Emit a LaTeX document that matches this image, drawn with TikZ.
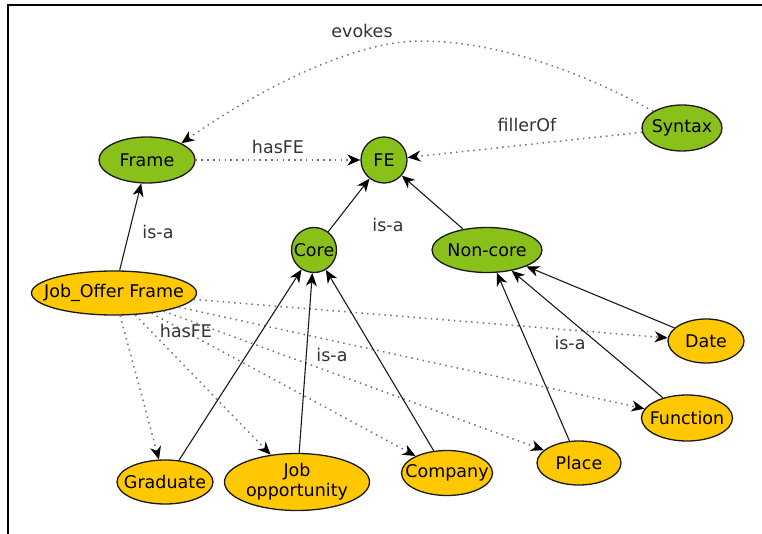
\documentclass[tikz,border=0pt]{standalone}
\usepackage{fontspec}
\setmainfont{DejaVu Sans}
\usetikzlibrary{shapes.geometric,arrows.meta}
\definecolor{leaf}{HTML}{8AC01A}
\definecolor{amber}{HTML}{FFC800}
\definecolor{ink}{HTML}{1A1A1A}
\begin{document}
\begin{tikzpicture}[x=1pt,y=-1pt,
  every node/.style={font=\fontsize{17.5}{20}\selectfont},
  concept/.style={draw=ink, line width=1.3pt, ellipse, inner xsep=-12pt, inner ysep=0pt},
  leafnode/.style={concept, fill=leaf},
  ambernode/.style={concept, fill=amber},
  roundnode/.style={draw=ink, line width=1.3pt, circle, inner sep=0pt, fill=leaf, minimum size=46pt},
  tip/.style={-{Stealth[length=13pt,width=11pt,inset=4pt,color=black]}},
  isa/.style={draw=ink, line width=1.1pt, tip},
  rel/.style={draw=black!55, line width=1.5pt, dash pattern=on 1.5pt off 4.3pt, tip},
  lbl/.style={text=black!80}
]
\useasboundingbox (0,0) rectangle (762,534);
% frame lines
\draw[line width=1.3pt] (8,534) -- (8,5) -- (762,5);

% concepts
\node[leafnode, minimum width=96pt, minimum height=46pt] (frame) at (147,160) {Frame};
\node[roundnode] (fe) at (384,160) {FE};
\node[leafnode, minimum width=80pt, minimum height=46pt] (syntax) at (682,128) {Syntax};
\node[roundnode, minimum size=45pt] (core) at (314,250) {Core};
\node[leafnode, minimum width=110pt, minimum height=45pt] (noncore) at (487,250) {Non-core};

\node[ambernode, minimum width=165pt, minimum height=44pt] (job) at (114,293) {Job\_Offer Frame};
\node[ambernode, minimum width=96pt, minimum height=44pt] (graduate) at (165,482) {Graduate};
\node[ambernode, minimum width=145pt, minimum height=57pt, align=center] (jobopp) at (297,482) {Job\\opportunity};
\node[ambernode, minimum width=91pt, minimum height=45pt] (company) at (447,473) {Company};
\node[ambernode, minimum width=84pt, minimum height=44pt] (place) at (579,463) {Place};
\node[ambernode, minimum width=91pt, minimum height=46pt] (function) at (687,418) {Function};
\node[ambernode, minimum width=76pt, minimum height=44pt] (date) at (706,341) {Date};

% relations
\draw[rel] (syntax.north west) .. controls (560,60) and (480,41) .. (420,41)
  .. controls (350,41) and (250,95) .. (frame.north east);
\draw[rel] (frame) -- (fe);
\draw[rel] (syntax) -- (fe);
\draw[rel] (job) -- (graduate);
\draw[rel] (job) -- (jobopp);
\draw[rel] (job) -- (company);
\draw[rel] (job) -- (place);
\draw[rel] (job) -- (function);
\draw[rel] (job) -- (date);

% is-a links
\draw[isa] (job) -- (frame);
\draw[isa] (core) -- (fe);
\draw[isa] (noncore) -- (fe);
\draw[isa] (graduate) -- (core);
\draw[isa] (jobopp) -- (core);
\draw[isa] (company) -- (core);
\draw[isa] (place) -- (noncore);
\draw[isa] (function) -- (noncore);
\draw[isa] (date) -- (noncore);

% labels
\node[lbl] (l-evokes) at (362,31) {evokes};
\node[lbl] (l-hasfe1) at (278,147) {hasFE};
\node[lbl] (l-filler) at (527,125) {fillerOf};
\node[lbl] (l-isa1) at (158,232) {is-a};
\node[lbl] (l-isa2) at (388,225) {is-a};
\node[lbl] (l-hasfe2) at (186,331) {hasFE};
\node[lbl] (l-isa3) at (332,355) {is-a};
\node[lbl] (l-isa4) at (570,343) {is-a};
\end{tikzpicture}
\end{document}
